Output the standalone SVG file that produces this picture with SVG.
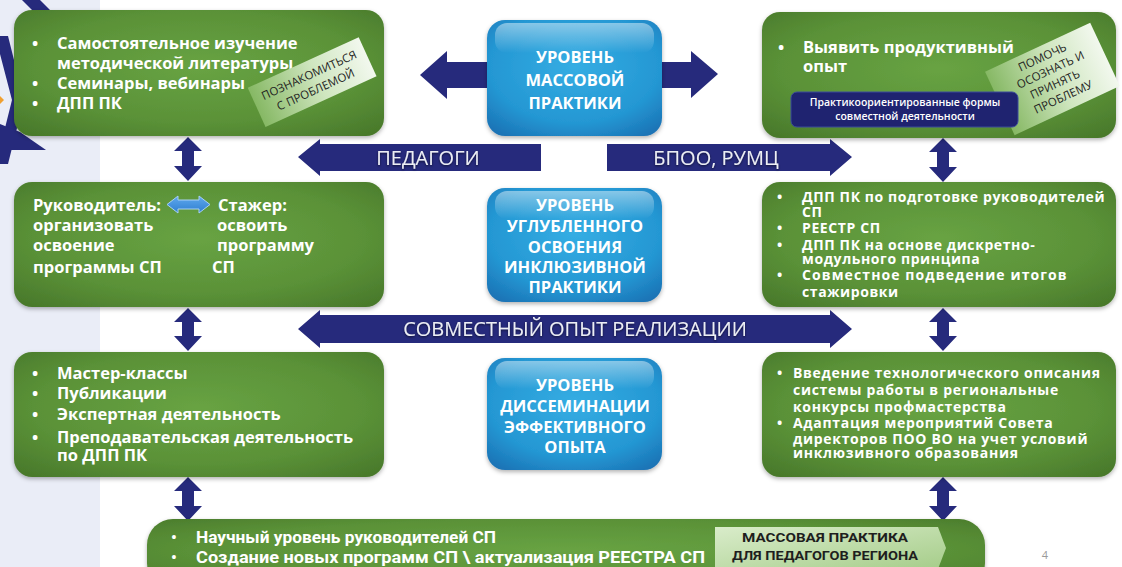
<svg xmlns="http://www.w3.org/2000/svg" width="1122" height="567" viewBox="0 0 1122 567">
<defs>
<radialGradient id="gGreen" cx="0.5" cy="0.45" r="0.75">
<stop offset="0" stop-color="#68a343"/>
<stop offset="0.6" stop-color="#5a9137"/>
<stop offset="1" stop-color="#467529"/>
</radialGradient>
<radialGradient id="gBlue" cx="0.5" cy="0.4" r="0.75">
<stop offset="0" stop-color="#35ade3"/>
<stop offset="0.65" stop-color="#2497d3"/>
<stop offset="1" stop-color="#1a6fb2"/>
</radialGradient>
<linearGradient id="gGloss" x1="0" y1="0" x2="0" y2="1">
<stop offset="0" stop-color="#ffffff" stop-opacity="0.45"/>
<stop offset="1" stop-color="#ffffff" stop-opacity="0"/>
</linearGradient>
<linearGradient id="gTag" x1="0" y1="0" x2="1" y2="0">
<stop offset="0" stop-color="#86b864"/>
<stop offset="0.55" stop-color="#cfe6bf"/>
<stop offset="1" stop-color="#f2f8ee"/>
</linearGradient>
<linearGradient id="gTag2" x1="0" y1="0" x2="1" y2="1">
<stop offset="0" stop-color="#d9ecca"/>
<stop offset="1" stop-color="#a6cd8a"/>
</linearGradient>
<linearGradient id="gLBlue" x1="0" y1="0" x2="0" y2="1">
<stop offset="0" stop-color="#5fa8ee"/>
<stop offset="1" stop-color="#2f7fd0"/>
</linearGradient>
<filter id="sh" x="-10%" y="-10%" width="120%" height="130%">
<feDropShadow dx="0" dy="2" stdDeviation="2" flood-color="#000" flood-opacity="0.3"/>
</filter>
<filter id="tsh" x="-10%" y="-30%" width="120%" height="160%">
<feDropShadow dx="0" dy="1" stdDeviation="0.8" flood-color="#000" flood-opacity="0.6"/>
</filter>
</defs>
<style>
.green{fill:url(#gGreen);filter:url(#sh)}
.blue{fill:url(#gBlue);filter:url(#sh)}
.gloss{fill:url(#gGloss)}
.navy{fill:#262a7c}
.t{font-family:"Open Sans","DejaVu Sans",sans-serif;font-weight:700;fill:#ffffff}
.t17{font-size:16.5px}
.t14{font-size:14px}
.bt{font-family:"Open Sans","DejaVu Sans",sans-serif;font-weight:700;fill:#ffffff;font-size:16.5px;text-anchor:middle}
.at{font-family:"Open Sans","DejaVu Sans",sans-serif;font-weight:400;fill:#eceef4;font-size:20px;text-anchor:middle}
.tag{font-family:"Open Sans","DejaVu Sans",sans-serif;font-weight:400;fill:#1e1e1e;font-size:11.5px;text-anchor:middle}
.cond{font-family:"Liberation Sans Narrow","Roboto","Liberation Sans",sans-serif;font-weight:700;fill:#ffffff;font-size:16px}
</style>

<!-- background -->
<rect x="0" y="0" width="1122" height="567" fill="#ffffff"/>
<rect x="0" y="0" width="100" height="567" fill="#eaedf7"/>
<g id="decor">
<polygon class="navy" points="22,0 40,0 62,22 44,22"/>
<polygon class="navy" points="0,36 8,36 24,100 8,164 0,164 0,148 12,100 0,54"/>
<polygon class="navy" points="0,124 20,132 46,150 0,150"/>
<polygon fill="#f0a030" points="0,96 4,100 0,104"/>
</g>

<!-- connectors -->
<g id="connectors">
<polygon class="navy" points="420,75 447,51 447,62 492,62 492,88 447,88 447,99"/>
<polygon class="navy" points="718,74 691,51 691,62 656,62 656,88 691,88 691,98"/>
<g id="arrow-pedagogi">
<polygon class="navy" points="298,157 320,139 320,144 541,144 541,171 320,171 320,176"/>
<text class="at" x="428" y="165" filter="url(#tsh)">ПЕДАГОГИ</text>
</g>
<g id="arrow-bpoo">
<polygon class="navy" points="852,157 830,139 830,144 607,144 607,171 830,171 830,176"/>
<text class="at" x="716" y="165" filter="url(#tsh)">БПОО, РУМЦ</text>
</g>
<g id="arrow-joint">
<polygon class="navy" points="298,329 320,310 320,315 830,315 830,310 852,329 830,348 830,343 320,343 320,348"/>
<text class="at" x="575" y="336" filter="url(#tsh)">СОВМЕСТНЫЙ ОПЫТ РЕАЛИЗАЦИИ</text>
</g>
<polygon class="navy" points="188,137 202,151 194,151 194,166 202,166 188,181 174,166 182,166 182,151 174,151"/>
<polygon class="navy" points="188,308 202,322 194,322 194,336 202,336 188,351 174,336 182,336 182,322 174,322"/>
<polygon class="navy" points="188,477 202,491 194,491 194,506 202,506 188,521 174,506 182,506 182,491 174,491"/>
<polygon class="navy" points="943,138 957,152 949,152 949,167 957,167 943,182 929,167 937,167 937,152 929,152"/>
<polygon class="navy" points="943,308 957,322 949,322 949,336 957,336 943,351 929,336 937,336 937,322 929,322"/>
<polygon class="navy" points="943,477 957,491 949,491 949,506 957,506 943,521 929,506 937,506 937,491 929,491"/>
</g>

<!-- center boxes -->
<g id="level-mass">
<rect class="blue" x="487" y="20" width="175" height="116" rx="18"/>
<rect class="gloss" x="495" y="23" width="159" height="30" rx="12"/>
<text class="bt" x="575" y="63">УРОВЕНЬ</text>
<text class="bt" x="575" y="86">МАССОВОЙ</text>
<text class="bt" x="575" y="109">ПРАКТИКИ</text>
</g>
<g id="level-deep">
<rect class="blue" x="487" y="188" width="175" height="114" rx="18"/>
<rect class="gloss" x="495" y="191" width="159" height="28" rx="12"/>
<text class="bt" x="575" y="211">УРОВЕНЬ</text>
<text class="bt" x="575" y="232">УГЛУБЛЕННОГО</text>
<text class="bt" x="575" y="253">ОСВОЕНИЯ</text>
<text class="bt" x="575" y="273">ИНКЛЮЗИВНОЙ</text>
<text class="bt" x="575" y="293">ПРАКТИКИ</text>
</g>
<g id="level-dissem">
<rect class="blue" x="487" y="358" width="175" height="112" rx="18"/>
<rect class="gloss" x="495" y="361" width="159" height="28" rx="12"/>
<text class="bt" x="575" y="391">УРОВЕНЬ</text>
<text class="bt" x="575" y="412">ДИССЕМИНАЦИИ</text>
<text class="bt" x="575" y="433">ЭФФЕКТИВНОГО</text>
<text class="bt" x="575" y="453">ОПЫТА</text>
</g>

<!-- top-left -->
<g id="box-top-left">
<rect class="green" x="14" y="10" width="370" height="126" rx="18"/>
<g class="t t17">
<text x="32" y="49">•</text><text x="57" y="49">Самостоятельное изучение</text>
<text x="57" y="69">методической литературы</text>
<text x="32" y="89">•</text><text x="57" y="89">Семинары, вебинары</text>
<text x="32" y="109">•</text><text x="57" y="109">ДПП ПК</text>
</g>
<g transform="translate(311,82) rotate(-24.5)">
<rect x="-60" y="-21" width="122" height="43" fill="url(#gTag)"/>
<text class="tag" x="1" y="-3">ПОЗНАКОМИТЬСЯ</text>
<text class="tag" x="1" y="13">С ПРОБЛЕМОЙ</text>
</g>
</g>

<!-- top-right -->
<g id="box-top-right">
<rect class="green" x="762" y="12" width="354" height="126" rx="18"/>
<g class="t t17">
<text x="778" y="53">•</text><text x="803" y="53">Выявить продуктивный</text>
<text x="803" y="72">опыт</text>
</g>
<g transform="translate(1052,78) rotate(-25)">
<rect x="-58" y="-34" width="116" height="70" fill="url(#gTag)"/>
<text class="tag" x="0" y="-19">ПОМОЧЬ</text>
<text class="tag" x="2" y="-4">ОСОЗНАТЬ И</text>
<text class="tag" x="0" y="11">ПРИНЯТЬ</text>
<text class="tag" x="2" y="26">ПРОБЛЕМУ</text>
</g>
<rect x="791" y="92" width="227" height="35" rx="6" fill="#1f2370" stroke="#3a4a9a" stroke-width="1"/>
<text x="905" y="106" font-family="'Open Sans','DejaVu Sans',sans-serif" font-size="10.5" font-weight="600" fill="#ffffff" text-anchor="middle">Практикоориентированные формы</text>
<text x="905" y="120" font-family="'Open Sans','DejaVu Sans',sans-serif" font-size="10.5" font-weight="600" fill="#ffffff" text-anchor="middle">совместной деятельности</text>
</g>

<!-- middle-left -->
<g id="box-mid-left">
<rect class="green" x="14" y="182" width="370" height="125" rx="18"/>
<g class="t t17">
<text x="33" y="211">Руководитель:</text>
<text x="33" y="231">организовать</text>
<text x="33" y="251">освоение</text>
<text x="33" y="273">программы СП</text>
<text x="218" y="211">Стажер:</text>
<text x="217" y="231">освоить</text>
<text x="217" y="251">программу</text>
<text x="212" y="273">СП</text>
</g>
<polygon fill="url(#gLBlue)" stroke="#a9d0f5" stroke-width="1" points="167,204.5 178,196 178,200 199,200 199,196 210,204.5 199,213 199,209 178,209 178,213"/>
</g>

<!-- middle-right -->
<g id="box-mid-right">
<rect class="green" x="762" y="182" width="354" height="125" rx="18"/>
<g class="t t14" letter-spacing="0.6">
<text x="777" y="202">•</text><text x="802" y="202">ДПП ПК по подготовке  руководителей</text>
<text x="802" y="217">СП</text>
<text x="777" y="233">•</text><text x="802" y="233">РЕЕСТР СП</text>
<text x="777" y="250">•</text><text x="802" y="250">ДПП ПК на основе дискретно-</text>
<text x="802" y="264">модульного принципа</text>
<text x="777" y="280">•</text><text x="802" y="280" letter-spacing="1.1">Совместное подведение итогов</text>
<text x="802" y="297">стажировки</text>
</g>
</g>

<!-- bottom-left -->
<g id="box-bottom-left">
<rect class="green" x="14" y="352" width="370" height="125" rx="18"/>
<g class="t t17">
<text x="32" y="379">•</text><text x="57" y="379">Мастер-классы</text>
<text x="32" y="399">•</text><text x="57" y="399">Публикации</text>
<text x="32" y="420">•</text><text x="57" y="420">Экспертная деятельность</text>
<text x="32" y="443">•</text><text x="57" y="443">Преподавательская деятельность</text>
<text x="57" y="461">по ДПП ПК</text>
</g>
</g>

<!-- bottom-right -->
<g id="box-bottom-right">
<rect class="green" x="762" y="352" width="354" height="125" rx="18"/>
<g class="t t14" letter-spacing="0.7">
<text x="777" y="378">•</text><text x="793" y="378">Введение технологического описания</text>
<text x="793" y="395">системы работы в региональные</text>
<text x="793" y="412">конкурсы профмастерства</text>
<text x="777" y="428">•</text><text x="793" y="428">Адаптация мероприятий Совета</text>
<text x="793" y="444">директоров ПОО ВО на учет условий</text>
<text x="793" y="458">инклюзивного образования</text>
</g>
</g>

<!-- bottom bar -->
<g id="box-bottom-bar">
<rect class="green" x="147" y="519" width="838" height="70" rx="26"/>
<g class="cond">
<text x="171" y="543">•</text><text x="196" y="543" textLength="300" lengthAdjust="spacingAndGlyphs">Научный уровень руководителей СП</text>
<text x="171" y="563">•</text><text x="196" y="563" textLength="509" lengthAdjust="spacingAndGlyphs">Создание новых программ СП \ актуализация РЕЕСТРА СП</text>
</g>
<polygon fill="url(#gTag2)" points="715,527 938,527 946,548 938,569 715,569"/>
<text x="825" y="542" font-family="'Liberation Sans Narrow','Roboto','Liberation Sans',sans-serif" font-weight="700" font-size="13" fill="#1e1e1e" text-anchor="middle" textLength="166" lengthAdjust="spacingAndGlyphs">МАССОВАЯ ПРАКТИКА</text>
<text x="825" y="560" font-family="'Liberation Sans Narrow','Roboto','Liberation Sans',sans-serif" font-weight="700" font-size="13" fill="#1e1e1e" text-anchor="middle" textLength="186" lengthAdjust="spacingAndGlyphs">ДЛЯ ПЕДАГОГОВ РЕГИОНА</text>
</g>

<text x="1045" y="559" font-family="'Open Sans',sans-serif" font-size="11" fill="#9a9a9a" text-anchor="middle">4</text>
</svg>
